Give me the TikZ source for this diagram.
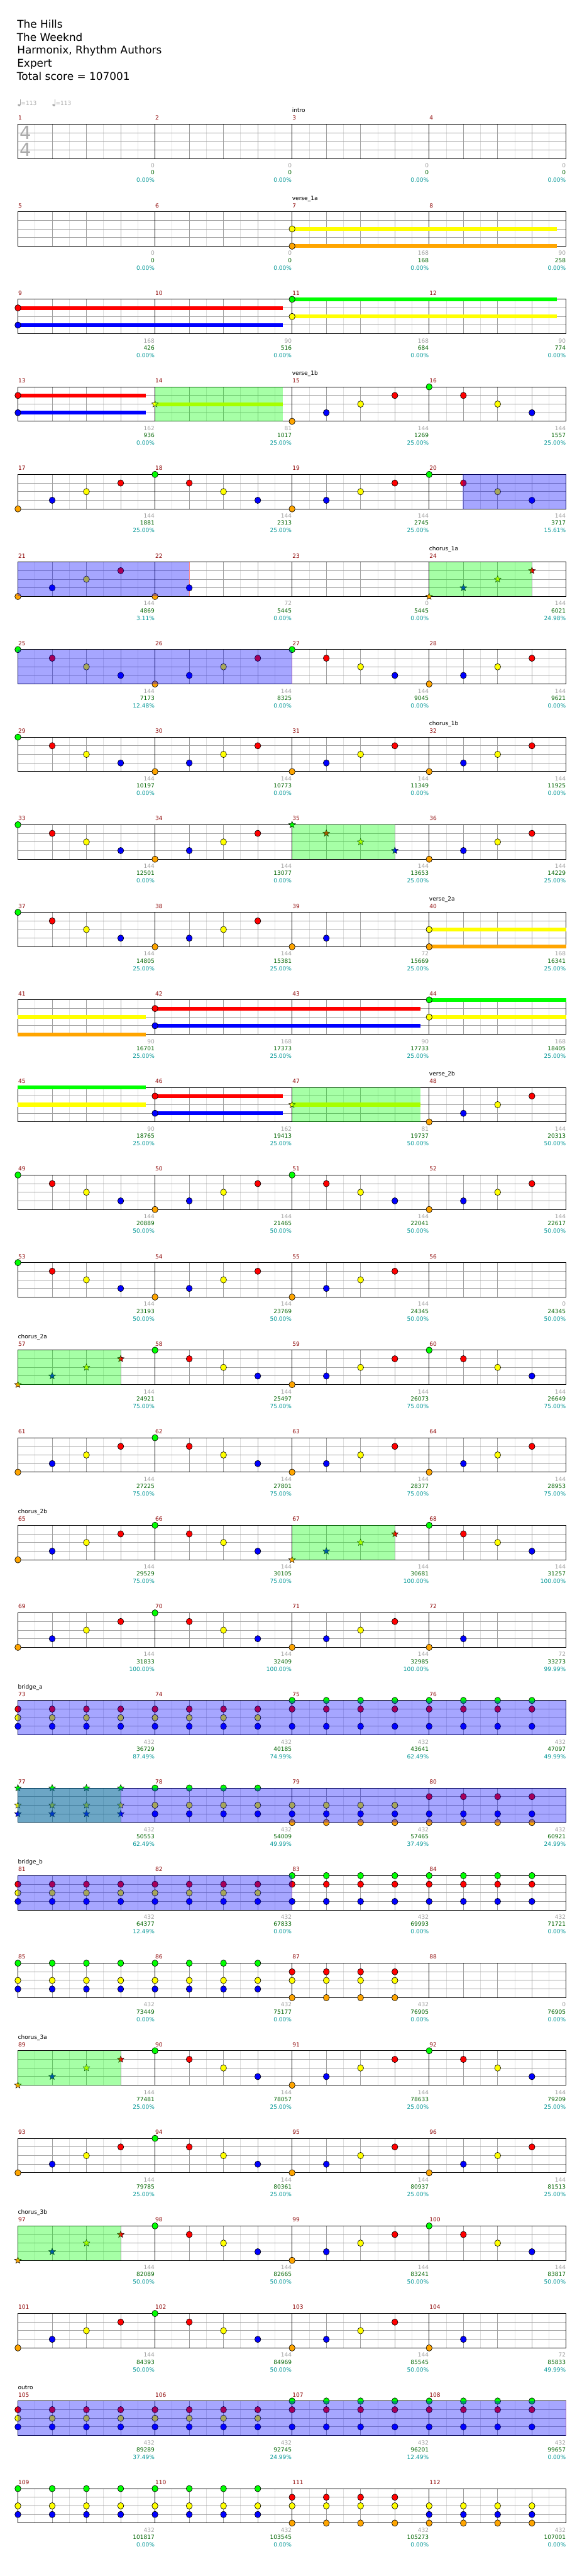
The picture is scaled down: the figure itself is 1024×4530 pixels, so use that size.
\documentclass[tikz,border=0pt]{standalone}
\usepackage{fontspec}
\setmainfont{DejaVu Sans}
\usetikzlibrary{shapes.geometric}
\definecolor{nG}{RGB}{0,255,0}
\definecolor{nR}{RGB}{255,0,0}
\definecolor{nY}{RGB}{255,255,0}
\definecolor{nB}{RGB}{0,0,255}
\definecolor{nO}{RGB}{255,165,0}
\definecolor{mnum}{RGB}{140,0,0}
\definecolor{gnum}{RGB}{160,160,160}
\definecolor{snum}{RGB}{0,100,0}
\definecolor{pnum}{RGB}{0,150,150}
\definecolor{gridA}{RGB}{160,160,160}
\definecolor{gridB}{RGB}{222,222,222}
\definecolor{tempoc}{RGB}{170,170,170}
\definecolor{endline}{RGB}{255,140,140}
\def\laneG{0}\def\laneR{1}\def\laneY{2}\def\laneB{3}\def\laneO{4}
\newcommand\smallf{\fontsize{10}{12}\selectfont}
\newcommand\rowtop[1]{\pgfmathsetmacro\RT{218.3+(#1-1)*154}}
\newcommand\xpos[1]{\pgfmathsetmacro\XP{31.5+(#1)*30.15}}
\newcommand\staff[2]{%
  \rowtop{#1}%
  \foreach \i in {1,3,...,31}{\xpos{\i}\draw[gridB,line width=0.9] (\XP,\RT) -- (\XP,\RT+60.6);}%
  \foreach \i in {2,4,6,10,12,14,18,20,22,26,28,30}{\xpos{\i}\draw[gridA,line width=0.9] (\XP,\RT) -- (\XP,\RT+60.6);}%
  \foreach \j in {1,2,3}{\draw[gridA,line width=1.1] (31.5,\RT+\j*15.15) -- (996.3,\RT+\j*15.15);}%
  \foreach \i in {8,16,24}{\xpos{\i}\draw[black,line width=0.8] (\XP,\RT) -- (\XP,\RT+60.6);}%
  \draw[black,line width=1.15] (31.5,\RT) rectangle (996.3,\RT+60.6);%
  \foreach \k in {0,1,2,3}{\pgfmathtruncatemacro\MN{#2+\k}\xpos{8*\k}\node[mnumst] (m\MN) at (\XP+0.5,\RT-7.3) {\MN};}%
}
\newcommand\stats[2]{%
  \rowtop{#1}%
  \foreach \g/\s/\p [count=\k] in {#2}{\xpos{8*\k}%
    \node[gst] (g#1-\k) at (\XP-0.5,\RT+76.7) {\g};
    \node[sst] (c#1-\k) at (\XP-0.5,\RT+89) {\s};
    \node[pst] (p#1-\k) at (\XP-0.5,\RT+102.4) {\p\%};}%
}
\newcommand\sect[3]{\rowtop{#1}\xpos{#2}\node[secst] (s#1) at (\XP,\RT-20.5) {#3};}
\newcommand\nt[3]{\rowtop{#1}\xpos{#2}\pgfmathsetmacro\YP{\RT+\csname lane#3\endcsname*15.15}%
  \node[notehead,fill=n#3] (n#1-#2-#3) at (\XP,\YP) {};}
\newcommand\st[3]{\rowtop{#1}\xpos{#2}\pgfmathsetmacro\YP{\RT+\csname lane#3\endcsname*15.15}%
  \node[starnote,fill=n#3] (t#1-#2-#3) at (\XP,\YP) {};}
\newcommand\notes[2]{\foreach \i/\l in {#2}{\nt{#1}{\i}{\l}}}
\newcommand\stars[2]{\foreach \i/\l in {#2}{\st{#1}{\i}{\l}}}
\newcommand\chords[3]{\foreach \i in {#2}{\foreach \l in {#3}{\nt{#1}{\i}{\l}}}}
\newcommand\starchords[3]{\foreach \i in {#2}{\foreach \l in {#3}{\st{#1}{\i}{\l}}}}
\newcommand\sus[4]{\rowtop{#1}\pgfmathsetmacro\YP{\RT+\csname lane#4\endcsname*15.15}%
  \xpos{#2}\let\XA\XP\xpos{#3}\fill[n#4] (\XA,\YP-3.35) rectangle (\XP,\YP+3.35);}
\newcommand\spg[3]{\rowtop{#1}\xpos{#2}\let\XA\XP\xpos{#3}\fill[nG,fill opacity=0.35] (\XA,\RT) rectangle (\XP,\RT+60.6);}
\newcommand\spb[3]{\rowtop{#1}\xpos{#2}\let\XA\XP\xpos{#3}\fill[nB,fill opacity=0.35] (\XA,\RT) rectangle (\XP,\RT+60.6);}
\newcommand\actend[2]{\rowtop{#1}\xpos{#2}\draw[endline,line width=1] (\XP,\RT) -- (\XP,\RT+60.6);}
\begin{document}
\begin{tikzpicture}[x=1pt,y=-1pt,
  notehead/.style={ellipse,draw=black,line width=0.7,minimum width=10.6,minimum height=11.3,inner sep=0},
  starnote/.style={star,star points=5,star point ratio=2.3,draw=black,line width=0.5,minimum size=12.5,inner sep=0},
  mnumst/.style={text=mnum,font=\smallf,anchor=base west,inner sep=0},
  gst/.style={text=gnum,font=\smallf,anchor=base east,inner sep=0},
  sst/.style={text=snum,font=\smallf,anchor=base east,inner sep=0},
  pst/.style={text=pnum,font=\smallf,anchor=base east,inner sep=0},
  secst/.style={text=black,font=\smallf,anchor=base west,inner sep=0},
  titlest/.style={text=black,font=\fontsize{18.7}{23}\selectfont,anchor=base west,inner sep=0},
  tempost/.style={text=tempoc,font=\smallf,anchor=base west,inner sep=0}]
\useasboundingbox (0,0) rectangle (1024,4530);
\fill[white] (0,0) rectangle (1024,4530);
\node[titlest] (t1) at (30,49.3) {The Hills};
\node[titlest] (t2) at (29.5,72) {The Weeknd};
\node[titlest] (t3) at (30,95) {Harmonix, Rhythm Authors};
\node[titlest] (t4) at (30,118.3) {Expert};
\node[titlest] (t5) at (29.5,141) {Total score = 107001};
% tempo marks
\fill[tempoc,rotate around={-25:(33.6,185)}] (33.6,185) ellipse (2.6 and 1.8);
\draw[tempoc,line width=0.7] (35.9,184.3) -- (35.9,174.5);
\node[tempost] (tempo1) at (36.8,185.5) {=113};
\fill[tempoc,rotate around={-25:(94.6,185)}] (94.6,185) ellipse (2.6 and 1.8);
\draw[tempoc,line width=0.7] (96.9,184.3) -- (96.9,174.5);
\node[tempost] (tempo2) at (97.8,185.5) {=113};
% row 1
\staff{1}{1}
\node[text=tempoc,font=\fontsize{32}{32}\selectfont,anchor=base west,inner sep=0] (ts1) at (35,245) {4};
\node[text=tempoc,font=\fontsize{32}{32}\selectfont,anchor=base west,inner sep=0] (ts2) at (35,275) {4};
\sect{1}{16}{intro}
\stats{1}{0/0/0.00,0/0/0.00,0/0/0.00,0/0/0.00}
% row 2
\staff{2}{5}
\sus{2}{16}{31.47}{Y}\sus{2}{16}{31.47}{O}
\notes{2}{16/Y,16/O}
\sect{2}{16}{verse\_1a}
\stats{2}{0/0/0.00,0/0/0.00,168/168/0.00,90/258/0.00}
% row 3
\staff{3}{9}
\sus{3}{0}{15.47}{R}\sus{3}{0}{15.47}{B}\sus{3}{16}{31.47}{G}\sus{3}{16}{31.47}{Y}
\notes{3}{0/R,0/B,16/G,16/Y}
\stats{3}{168/426/0.00,90/516/0.00,168/684/0.00,90/774/0.00}
% row 4
\staff{4}{13}
\sus{4}{0}{7.47}{R}\sus{4}{0}{7.47}{B}\sus{4}{8}{15.47}{Y}
\notes{4}{0/R,0/B,16/O,18/B,20/Y,22/R,24/G,26/R,28/Y,30/B}
\stars{4}{8/Y}
\spg{4}{8}{15.47}
\sect{4}{16}{verse\_1b}
\stats{4}{162/936/0.00,81/1017/25.00,144/1269/25.00,144/1557/25.00}
% row 5
\staff{5}{17}
\notes{5}{0/O,2/B,4/Y,6/R,8/G,10/R,12/Y,14/B,16/O,18/B,20/Y,22/R,24/G,26/R,28/Y,30/B}
\spb{5}{25.95}{32}
\stats{5}{144/1881/25.00,144/2313/25.00,144/2745/25.00,144/3717/15.61}
% row 6
\staff{6}{21}
\actend{6}{10}
\notes{6}{0/O,2/B,4/Y,6/R,8/O,10/B}
\stars{6}{24/O,26/B,28/Y,30/R}
\spg{6}{24}{30}
\spb{6}{0}{10}
\sect{6}{24}{chorus\_1a}
\stats{6}{144/4869/3.11,72/5445/0.00,0/5445/0.00,144/6021/24.98}
% row 7
\staff{7}{25}
\actend{7}{16}
\notes{7}{0/G,2/R,4/Y,6/B,8/O,10/B,12/Y,14/R,16/G,18/R,20/Y,22/B,24/O,26/B,28/Y,30/R}
\spb{7}{0}{16}
\stats{7}{144/7173/12.48,144/8325/0.00,144/9045/0.00,144/9621/0.00}
% row 8
\staff{8}{29}
\notes{8}{0/G,2/R,4/Y,6/B,8/O,10/B,12/Y,14/R,16/O,18/B,20/Y,22/R,24/O,26/B,28/Y,30/R}
\sect{8}{24}{chorus\_1b}
\stats{8}{144/10197/0.00,144/10773/0.00,144/11349/0.00,144/11925/0.00}
% row 9
\staff{9}{33}
\notes{9}{0/G,2/R,4/Y,6/B,8/O,10/B,12/Y,14/R,24/O,26/B,28/Y,30/R}
\stars{9}{16/G,18/R,20/Y,22/B}
\spg{9}{16}{22}
\stats{9}{144/12501/0.00,144/13077/0.00,144/13653/25.00,144/14229/25.00}
% row 10
\staff{10}{37}
\sus{10}{24}{32}{Y}\sus{10}{24}{32}{O}
\notes{10}{0/G,2/R,4/Y,6/B,8/O,10/B,12/Y,14/R,16/O,18/B,24/Y,24/O}
\sect{10}{24}{verse\_2a}
\stats{10}{144/14805/25.00,144/15381/25.00,72/15669/25.00,168/16341/25.00}
% row 11
\staff{11}{41}
\sus{11}{0}{7.47}{Y}\sus{11}{0}{7.47}{O}\sus{11}{8}{23.49}{R}\sus{11}{8}{23.49}{B}\sus{11}{24}{32}{G}\sus{11}{24}{32}{Y}
\notes{11}{8/R,8/B,24/G,24/Y}
\stats{11}{90/16701/25.00,168/17373/25.00,90/17733/25.00,168/18405/25.00}
% row 12
\staff{12}{45}
\sus{12}{0}{7.47}{G}\sus{12}{0}{7.47}{Y}\sus{12}{8}{15.47}{R}\sus{12}{8}{15.47}{B}\sus{12}{16}{23.49}{Y}
\notes{12}{8/R,8/B,24/O,26/B,28/Y,30/R}
\stars{12}{16/Y}
\spg{12}{16}{23.49}
\sect{12}{24}{verse\_2b}
\stats{12}{90/18765/25.00,162/19413/25.00,81/19737/50.00,144/20313/50.00}
% row 13
\staff{13}{49}
\notes{13}{0/G,2/R,4/Y,6/B,8/O,10/B,12/Y,14/R,16/G,18/R,20/Y,22/B,24/O,26/B,28/Y,30/R}
\stats{13}{144/20889/50.00,144/21465/50.00,144/22041/50.00,144/22617/50.00}
% row 14
\staff{14}{53}
\notes{14}{0/G,2/R,4/Y,6/B,8/O,10/B,12/Y,14/R,16/O,18/B,20/Y,22/R}
\stats{14}{144/23193/50.00,144/23769/50.00,144/24345/50.00,0/24345/50.00}
% row 15
\staff{15}{57}
\notes{15}{8/G,10/R,12/Y,14/B,16/O,18/B,20/Y,22/R,24/G,26/R,28/Y,30/B}
\stars{15}{0/O,2/B,4/Y,6/R}
\spg{15}{0}{6}
\sect{15}{0}{chorus\_2a}
\stats{15}{144/24921/75.00,144/25497/75.00,144/26073/75.00,144/26649/75.00}
% row 16
\staff{16}{61}
\notes{16}{0/O,2/B,4/Y,6/R,8/G,10/R,12/Y,14/B,16/O,18/B,20/Y,22/R,24/O,26/B,28/Y,30/R}
\stats{16}{144/27225/75.00,144/27801/75.00,144/28377/75.00,144/28953/75.00}
% row 17
\staff{17}{65}
\notes{17}{0/O,2/B,4/Y,6/R,8/G,10/R,12/Y,14/B,24/G,26/R,28/Y,30/B}
\stars{17}{16/O,18/B,20/Y,22/R}
\spg{17}{16}{22}
\sect{17}{0}{chorus\_2b}
\stats{17}{144/29529/75.00,144/30105/75.00,144/30681/100.00,144/31257/100.00}
% row 18
\staff{18}{69}
\notes{18}{0/O,2/B,4/Y,6/R,8/G,10/R,12/Y,14/B,16/O,18/B,20/Y,22/R,24/O,26/B}
\stats{18}{144/31833/100.00,144/32409/100.00,144/32985/100.00,72/33273/99.99}
% row 19
\staff{19}{73}
\chords{19}{0,2,...,14}{R,Y,B}
\chords{19}{16,18,...,30}{G,R,B}
\spb{19}{0}{32}
\sect{19}{0}{bridge\_a}
\stats{19}{432/36729/87.49,432/40185/74.99,432/43641/62.49,432/47097/49.99}
% row 20
\staff{20}{77}
\starchords{20}{0,2,4,6}{G,Y,B}
\chords{20}{8,10,12,14}{G,Y,B}
\chords{20}{16,18,20,22}{Y,B,O}
\chords{20}{24,26,28,30}{R,B,O}
\spg{20}{0}{6}
\spb{20}{0}{32}
\stats{20}{432/50553/62.49,432/54009/49.99,432/57465/37.49,432/60921/24.99}
% row 21
\staff{21}{81}
\actend{21}{16}
\chords{21}{0,2,...,14}{R,Y,B}
\chords{21}{16,18,...,30}{G,R,B}
\spb{21}{0}{16}
\sect{21}{0}{bridge\_b}
\stats{21}{432/64377/12.49,432/67833/0.00,432/69993/0.00,432/71721/0.00}
% row 22
\staff{22}{85}
\chords{22}{0,2,...,14}{G,Y,B}
\chords{22}{16,18,20,22}{R,Y,O}
\stats{22}{432/73449/0.00,432/75177/0.00,432/76905/0.00,0/76905/0.00}
% row 23
\staff{23}{89}
\notes{23}{8/G,10/R,12/Y,14/B,16/O,18/B,20/Y,22/R,24/G,26/R,28/Y,30/B}
\stars{23}{0/O,2/B,4/Y,6/R}
\spg{23}{0}{6}
\sect{23}{0}{chorus\_3a}
\stats{23}{144/77481/25.00,144/78057/25.00,144/78633/25.00,144/79209/25.00}
% row 24
\staff{24}{93}
\notes{24}{0/O,2/B,4/Y,6/R,8/G,10/R,12/Y,14/B,16/O,18/B,20/Y,22/R,24/O,26/B,28/Y,30/R}
\stats{24}{144/79785/25.00,144/80361/25.00,144/80937/25.00,144/81513/25.00}
% row 25
\staff{25}{97}
\notes{25}{8/G,10/R,12/Y,14/B,16/O,18/B,20/Y,22/R,24/G,26/R,28/Y,30/B}
\stars{25}{0/O,2/B,4/Y,6/R}
\spg{25}{0}{6}
\sect{25}{0}{chorus\_3b}
\stats{25}{144/82089/50.00,144/82665/50.00,144/83241/50.00,144/83817/50.00}
% row 26
\staff{26}{101}
\notes{26}{0/O,2/B,4/Y,6/R,8/G,10/R,12/Y,14/B,16/O,18/B,20/Y,22/R,24/O,26/B}
\stats{26}{144/84393/50.00,144/84969/50.00,144/85545/50.00,72/85833/49.99}
% row 27
\staff{27}{105}
\actend{27}{32}
\chords{27}{0,2,...,14}{R,Y,B}
\chords{27}{16,18,...,30}{G,R,B}
\spb{27}{0}{32}
\sect{27}{0}{outro}
\stats{27}{432/89289/37.49,432/92745/24.99,432/96201/12.49,432/99657/0.00}
% row 28
\staff{28}{109}
\chords{28}{0,2,...,14}{G,Y,B}
\chords{28}{16,18,20,22}{R,Y,O}
\chords{28}{24,26,28,30}{Y,B,O}
\stats{28}{432/101817/0.00,432/103545/0.00,432/105273/0.00,432/107001/0.00}
\end{tikzpicture}
\end{document}
